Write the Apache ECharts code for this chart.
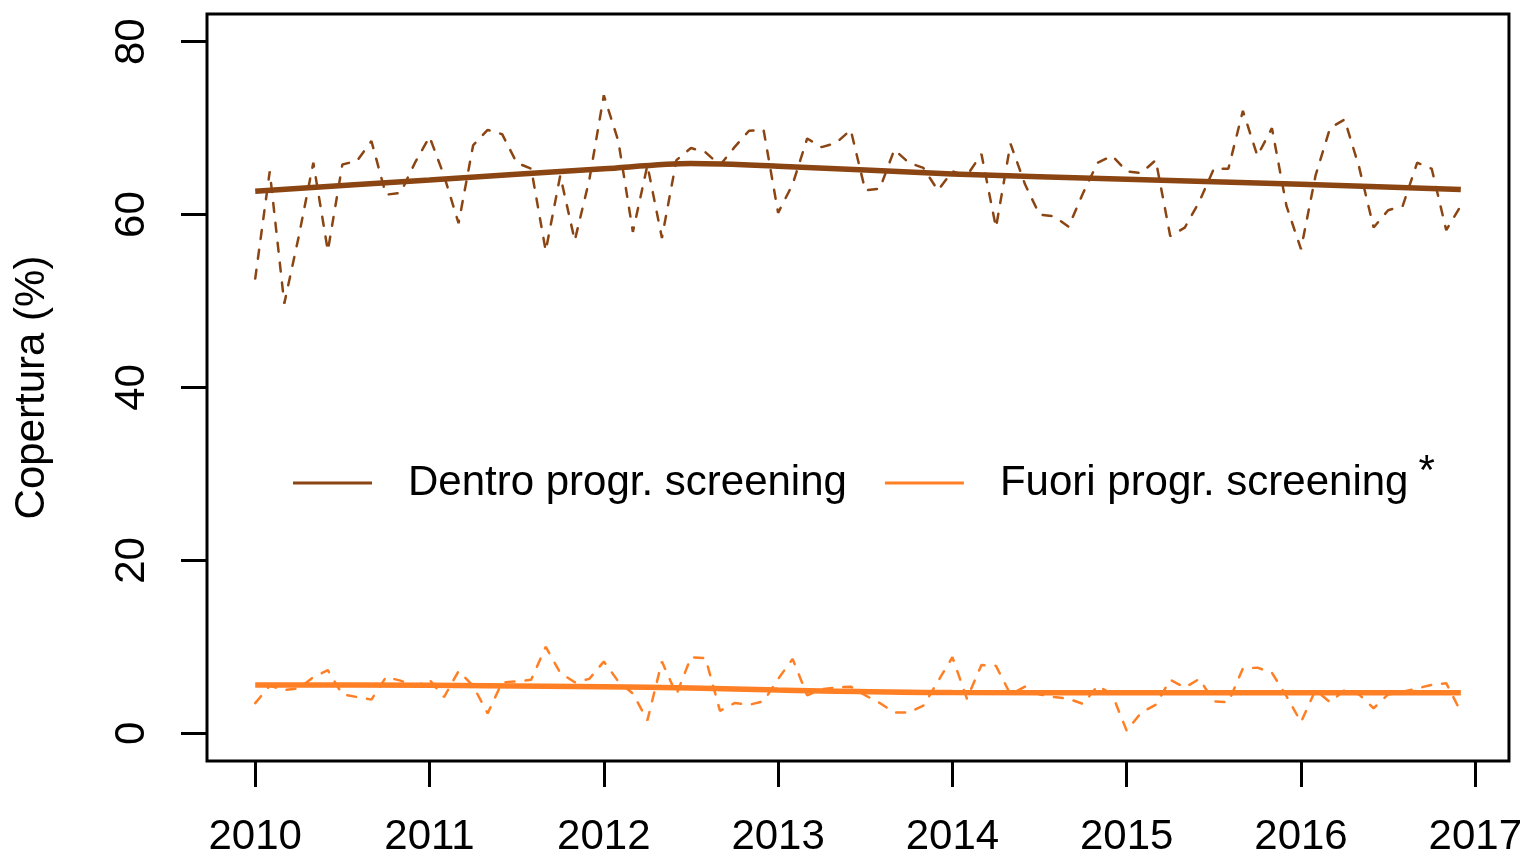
<!DOCTYPE html>
<html>
<head>
<meta charset="utf-8">
<script src="https://cdn.jsdelivr.net/npm/echarts@6/dist/echarts.min.js"></script>
<style>
  html, body { margin: 0; padding: 0; background: #fff; }
  #chart { width: 1525px; height: 858px; }
</style>
</head>
<body>
<div id="chart"></div>
<script>
// tick labels
const yearTicks = [2010, 2011, 2012, 2013, 2014, 2015, 2016, 2017]
const coverTicks = [0, 20, 40, 60, 80]

// monthly coverage, Jan 2010 .. Dec 2016
const dentroMonthly = [
  52.6, 65.0, 49.7, 57.5, 66.0, 55.8, 65.8, 66.2, 68.5, 62.3, 62.5, 66.0,
  69.0, 64.5, 59.0, 68.0, 69.8, 69.3, 66.0, 65.3, 55.8, 64.5, 57.0, 64.0,
  73.8, 68.5, 58.0, 65.7, 57.3, 66.3, 67.7, 67.2, 65.7, 67.8, 69.7, 69.8,
  60.2, 63.5, 68.8, 67.8, 68.3, 69.8, 62.8, 63.0, 67.5, 66.0, 65.4, 62.8,
  65.0, 64.5, 67.0, 58.5, 68.2, 63.5, 60.0, 59.8, 58.6, 62.5, 66.0, 66.8,
  65.0, 64.8, 66.3, 57.5, 58.5, 61.5, 65.3, 65.3, 72.0, 66.8, 70.0, 61.0,
  56.0, 64.5, 70.0, 71.0, 65.5, 58.5, 60.5, 61.0, 66.0, 65.3, 58.2, 61.0
]
const fuoriMonthly = [
  3.5, 5.5, 5.0, 5.2, 6.5, 7.3, 4.5, 4.2, 3.9, 6.5, 6.1, 5.4,
  6.2, 4.2, 7.2, 5.5, 2.3, 5.9, 6.0, 6.2, 10.0, 7.0, 5.9, 6.3,
  8.3, 6.0, 4.6, 1.5, 8.3, 4.5, 8.8, 8.7, 2.6, 3.5, 3.3, 3.7,
  6.3, 8.6, 4.4, 5.1, 5.3, 5.4, 4.4, 3.5, 2.4, 2.4, 3.2, 6.0,
  8.8, 4.0, 7.9, 7.8, 4.5, 5.4, 4.5, 4.2, 4.0, 3.4, 5.5, 4.5,
  0.3, 2.4, 3.3, 6.2, 5.3, 6.3, 3.7, 3.6, 7.5, 7.6, 7.0, 4.3,
  1.3, 5.0, 3.6, 5.0, 4.5, 2.9, 4.5, 4.8, 5.2, 5.6, 5.8, 2.5
]

// smoothed trend
const trendYears = [2010, 2011, 2012, 2012.5, 2013, 2014, 2015, 2016, 2016.917]
const dentroTrend = [62.7, 64.0, 65.3, 65.9, 65.6, 64.7, 64.1, 63.5, 62.9]
const fuoriTrend = [5.6, 5.55, 5.4, 5.25, 5.0, 4.72, 4.7, 4.7, 4.7]

const BROWN = '#8B4513'
const ORANGE = '#FF7F24'
const FONT = '"Liberation Sans", Arial, sans-serif'

const monthly = arr => arr.map((v, i) => [2010 + i / 12, v])
const trend = arr => arr.map((v, i) => [trendYears[i], v])

const chart = echarts.init(document.getElementById('chart'))

const option = {
  animation: false,
  backgroundColor: '#fff',
  textStyle: { fontFamily: FONT },
  grid: {
    left: 207,
    right: 14,
    top: 14,
    bottom: 97,
    show: true,
    borderColor: '#000',
    borderWidth: 3
  },
  legend: {
    data: ['Dentro progr. screening', 'Fuori progr. screening'],
    left: 293,
    top: 451,
    padding: 0,
    icon: 'rect',
    itemWidth: 79,
    itemHeight: 3,
    itemGap: 38,
    formatter: name => name.startsWith('Fuori') ? `{n|${name}}{s|*}` : `{n|${name}}`,
    textStyle: {
      color: '#000',
      fontSize: 42,
      fontFamily: FONT,
      padding: [0, 0, 0, 31],
      rich: {
        n: { fontSize: 42, lineHeight: 42, fontFamily: FONT, color: '#000' },
        s: { fontSize: 42, lineHeight: 42, fontFamily: FONT, color: '#000', padding: [0, 0, 22, 10] }
      }
    }
  },
  xAxis: {
    type: 'value',
    min: 2009.7233,
    max: 2017.1933,
    splitLine: { show: false },
    axisLine: { show: false, onZero: false },
    axisTick: {
      show: true,
      length: 26,
      customValues: yearTicks,
      lineStyle: { color: '#000', width: 3 }
    },
    axisLabel: {
      customValues: yearTicks,
      margin: 55,
      color: '#000',
      fontSize: 42,
      fontFamily: FONT,
      formatter: v => String(v)
    }
  },
  yAxis: {
    type: 'value',
    min: -3.2,
    max: 83.2,
    name: 'Copertura (%)',
    nameLocation: 'middle',
    nameRotate: 90,
    nameGap: 154,
    nameTextStyle: { color: '#000', fontSize: 42, fontFamily: FONT },
    splitLine: { show: false },
    axisLine: { show: false, onZero: false },
    axisTick: {
      show: true,
      length: 26,
      customValues: coverTicks,
      lineStyle: { color: '#000', width: 3 }
    },
    axisLabel: {
      customValues: coverTicks,
      rotate: 90,
      margin: 54,
      color: '#000',
      fontSize: 42,
      fontFamily: FONT
    }
  },
  series: [
    {
      name: 'Dentro mensile',
      type: 'line',
      data: monthly(dentroMonthly),
      symbol: 'none',
      lineStyle: { color: BROWN, width: 2.5, type: [9, 11], cap: 'round' }
    },
    {
      name: 'Fuori mensile',
      type: 'line',
      data: monthly(fuoriMonthly),
      symbol: 'none',
      lineStyle: { color: ORANGE, width: 2.5, type: [9, 11], cap: 'round' }
    },
    {
      name: 'Dentro progr. screening',
      type: 'line',
      data: trend(dentroTrend),
      smooth: 0.3,
      symbol: 'none',
      itemStyle: { color: BROWN },
      lineStyle: { color: BROWN, width: 5.5 }
    },
    {
      name: 'Fuori progr. screening',
      type: 'line',
      data: trend(fuoriTrend),
      smooth: 0.3,
      symbol: 'none',
      itemStyle: { color: ORANGE },
      lineStyle: { color: ORANGE, width: 5.5 }
    }
  ]
}

chart.setOption(option)
window.addEventListener('resize', () => chart.resize())
</script>
</body>
</html>
